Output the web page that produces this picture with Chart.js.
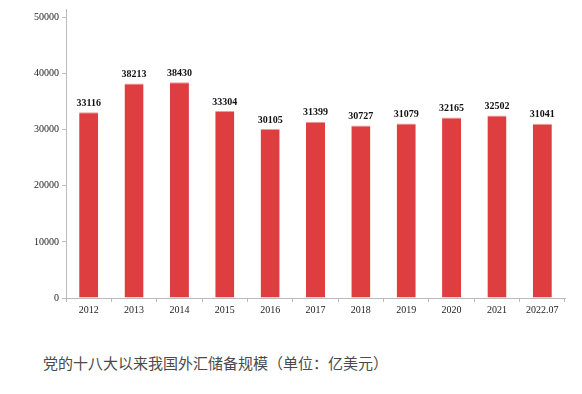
<!DOCTYPE html>
<html>
<head>
<meta charset="utf-8">
<script src="https://cdn.jsdelivr.net/npm/chart.js@4/dist/chart.umd.min.js"></script>
<style>
  html, body { margin: 0; padding: 0; background: #fff; }
  #wrap { position: relative; width: 582px; height: 394px; }
  #box { position: absolute; left: 0; top: 0; width: 582px; height: 320px; }
  #cap { position: absolute; left: 43px; top: 352px; font: 15px "Noto Sans CJK SC", sans-serif; color: #4a4a4a; white-space: nowrap; }
</style>
</head>
<body>
<div id="wrap">
  <div id="box"><canvas id="c"></canvas></div>
  <div id="cap">党的十八大以来我国外汇储备规模（单位：亿美元）</div>
</div>
<script>
const years  = ["2012","2013","2014","2015","2016","2017","2018","2019","2020","2021","2022.07"];
const values = [33116, 38213, 38430, 33304, 30105, 31399, 30727, 31079, 32165, 32502, 31041];
const yTicks = [0, 10000, 20000, 30000, 40000, 50000];

const RED = "#DE3E3F", AXIS = "#BBBBBB", SERIF = "'Liberation Serif', 'Times New Roman', serif";

// numbers above bars
const barLabels = {
  id: "barLabels",
  afterDatasetsDraw(chart) {
    const ctx = chart.ctx;
    ctx.save();
    ctx.font = "bold 10px " + SERIF;
    ctx.fillStyle = "#111";
    ctx.textAlign = "center";
    ctx.textBaseline = "bottom";
    chart.getDatasetMeta(0).data.forEach((b, i) => {
      ctx.fillText(values[i], b.x, b.y - 4);
    });
    ctx.restore();
  }
};

new Chart(document.getElementById("c"), {
  type: "bar",
  data: {
    labels: years,
    datasets: [{
      data: values,
      backgroundColor: RED,
      borderColor: "#EE9A9A",
      borderWidth: { top: 1, left: 0, right: 0, bottom: 0 },
      borderSkipped: false,
      categoryPercentage: 0.84,
      barPercentage: 0.5
    }]
  },
  options: {
    responsive: true,
    maintainAspectRatio: false,
    animation: false,
    layout: { padding: { top: 0, right: 17, left: 0, bottom: 0 } },
    plugins: { legend: { display: false }, tooltip: { enabled: false } },
    scales: {
      x: {
        grid: { drawOnChartArea: false, drawTicks: true, tickLength: 4, color: AXIS, offset: true },
        border: { color: AXIS },
        ticks: { color: "#222", font: { family: SERIF, size: 10 }, padding: 2, maxRotation: 0, autoSkip: false },
        afterFit(s) { s.height = 22; }
      },
      y: {
        min: 0, max: 51500,
        grid: { drawOnChartArea: false, drawTicks: true, tickLength: 4, color: AXIS },
        border: { color: AXIS },
        ticks: { color: "#222", font: { family: SERIF, size: 10 }, padding: 3, callback: v => String(v) },
        afterBuildTicks(s) { s.ticks = yTicks.map(v => ({ value: v })); },
        afterFit(s) { s.width = 66; }
      }
    }
  },
  plugins: [barLabels]
});
</script>
</body>
</html>
